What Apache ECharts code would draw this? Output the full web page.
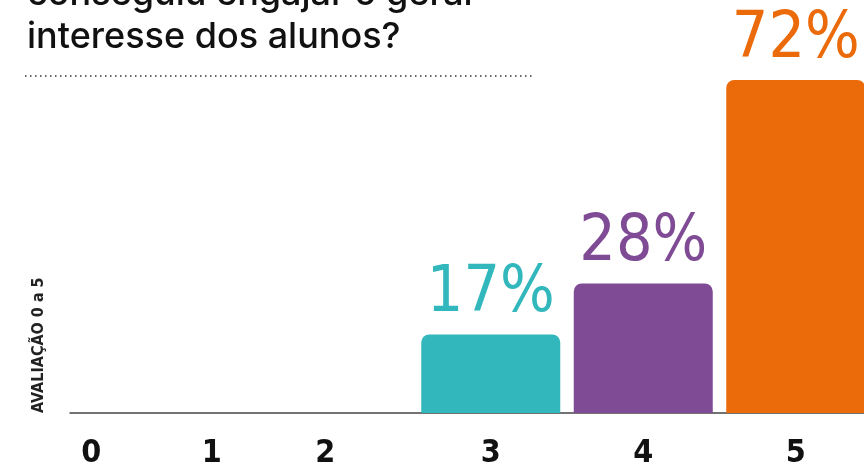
<!DOCTYPE html>
<html>
<head>
<meta charset="utf-8">
<script src="https://cdn.jsdelivr.net/npm/echarts@6/dist/echarts.min.js"></script>
<style>
  html, body { margin: 0; padding: 0; background: #fff; }
  #myChart { width: 864px; height: 467px; }
</style>
</head>
<body>
<div id="myChart"></div>
<script>
// dados do gráfico
const categories = ['0', '1', '2', '3', '4', '5'];
const percentValues = [null, null, null, 17, 28, 72];
const barColors = ['#31b7bc', '#31b7bc', '#31b7bc', '#31b7bc', '#7f4b94', '#eb6a09'];

const titleText = 'conseguiu engajar o geral\ninteresse dos alunos?';
const axisName = 'AVALIAÇÃO 0 a 5';

// deslocamento horizontal dos rótulos do eixo (o original não é uniforme)
const labelShift = [58, 26, -13, 0, 0, 0];
const condensed = '"DejaVu Sans Condensed", "DejaVu Sans", sans-serif';

const rich = {};
labelShift.forEach(function (s, i) {
  rich['c' + i] = {
    fontFamily: condensed,
    fontWeight: 'bold',
    fontSize: 32,
    color: '#111',
    padding: s >= 0 ? [0, 0, 0, s * 2] : [0, -s * 2, 0, 0]
  };
});

const barData = percentValues.map(function (v, i) {
  return {
    value: v,
    itemStyle: { color: barColors[i] },
    label: { color: barColors[i] }
  };
});

const myChart = echarts.init(document.getElementById('myChart'));

const option = {
  animation: false,
  title: {
    text: titleText,
    left: 22,
    top: -32,
    textStyle: {
      fontFamily: 'Inter',
      fontWeight: 500,
      fontSize: 36,
      lineHeight: 43,
      color: '#111'
    }
  },
  grid: [
    { left: -43, right: -8, top: 43, bottom: 54, outerBoundsMode: 'none' },
    { left: 70, right: 0, top: 43, bottom: 54, outerBoundsMode: 'none' }
  ],
  xAxis: [
    {
      type: 'category',
      gridIndex: 0,
      data: categories,
      axisLine: { show: false },
      axisTick: { show: false },
      axisLabel: {
        margin: 25,
        formatter: function (v, i) { return '{c' + i + '|' + v + '}'; },
        rich: rich
      }
    },
    {
      type: 'category',
      gridIndex: 1,
      data: categories,
      axisLine: { show: true, lineStyle: { color: '#444', width: 1.5 } },
      axisTick: { show: false },
      axisLabel: { show: false }
    }
  ],
  yAxis: [
    { type: 'value', gridIndex: 0, min: 0, max: 80, show: false },
    { type: 'value', gridIndex: 1, min: 0, max: 80, show: false }
  ],
  graphic: [
    {
      type: 'line',
      shape: { x1: 25, y1: 76, x2: 533, y2: 76 },
      style: { stroke: '#333', lineWidth: 1.5, lineDash: [1.5, 3.5] }
    },
    {
      type: 'text',
      x: 47,
      y: 413,
      rotation: Math.PI / 2,
      style: {
        text: axisName,
        font: 'bold 16px ' + condensed,
        fill: '#222',
        textAlign: 'left',
        textVerticalAlign: 'bottom'
      }
    }
  ],
  series: [
    {
      type: 'bar',
      xAxisIndex: 0,
      yAxisIndex: 0,
      data: barData,
      barWidth: 139,
      itemStyle: { borderRadius: [8, 8, 0, 0] },
      label: {
        show: true,
        position: 'top',
        distance: 8,
        formatter: '{c}%',
        fontFamily: condensed,
        fontSize: 64
      }
    }
  ]
};

myChart.setOption(option);
</script>
</body>
</html>
